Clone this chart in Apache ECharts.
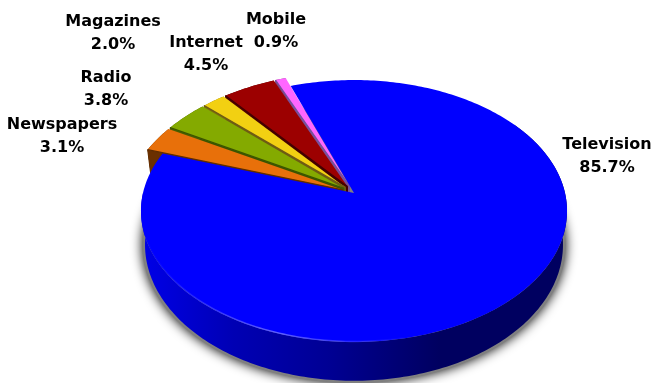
<!DOCTYPE html>
<html>
<head>
<meta charset="utf-8">
<style>html,body{margin:0;padding:0;background:#fff}#chart{width:653px;height:383px}</style>
<script src="https://cdn.jsdelivr.net/npm/echarts@6/dist/echarts.min.js"></script>
</head>
<body>
<div id="chart"></div>
<script>
// Share of advertising reach by medium, in percent.
const categories = ['Television', 'Newspapers', 'Radio', 'Magazines', 'Internet', 'Mobile'];
const shares = [85.7, 3.1, 3.8, 2.0, 4.5, 0.9];

// Slice colours: top face and radial cut face.
const topColors = ['#0000ff', '#e8700a', '#84aa00', '#f2d012', '#9c0000', '#ff66ff'];
const cutColors = ['#000080', '#5f2c00', '#3c5500', '#6e5c14', '#440000', '#77509c'];
const rimColors = ['#000080', '#6b3000', '#4a6000', '#80700c', '#500000', '#804080'];

// Label centres on the canvas.
const labelAt = {
  Television: [607, 156], Newspapers: [62, 136], Radio: [106, 89],
  Magazines: [113, 33], Internet: [206, 54], Mobile: [276, 31]
};

// Perspective projection of the disc: one mapping for the top face, one for the base.
const TILT = 0.1375;
const TOP_PLANE = { x: 354, y: 193, a: 211, b: 128.5 };
const BASE_PLANE = { x: 354, y: 226, a: 207, b: 133.5 };
const FIRST_ANGLE = -19.8;
const SMALL_RADIUS = 1.025;
const EXPLODE = 0.06;
// The large slice's outer wall only shows along the near side of the disc.
const NEAR_WALL = [55, 270];

const total = shares.reduce((s, v) => s + v, 0);
const spans = [];
shares.reduce((from, v) => {
  const to = from + (v / total) * 360;
  spans.push([from, to]);
  return to;
}, FIRST_ANGLE);

function project(plane, u, v) {
  const w = 1 - TILT * v;
  return [plane.x + plane.a * u / w, plane.y + plane.b * v / w];
}

// A point of slice i at a given angle (degrees clockwise from the far side) and radius.
function slicePoint(i, plane, deg, radius) {
  const [from, to] = spans[i];
  const mid = ((from + to) / 2) * Math.PI / 180;
  const off = i === 0 ? 0 : EXPLODE;
  const a = deg * Math.PI / 180;
  return project(plane,
    off * Math.sin(mid) + radius * Math.sin(a),
    -off * Math.cos(mid) - radius * Math.cos(a));
}

function arc(i, plane, from, to, radius) {
  const pts = [];
  const steps = Math.max(2, Math.ceil(Math.abs(to - from)));
  for (let k = 0; k <= steps; k++) {
    pts.push(slicePoint(i, plane, from + (to - from) * k / steps, radius));
  }
  return pts;
}

const rimFill = i => i === 0 ? {
  type: 'linear', global: true, x: 145, y: 0, x2: 440, y2: 0,
  colorStops: [
    { offset: 0, color: '#0000e6' },
    { offset: 0.3, color: '#0000b4' },
    { offset: 0.62, color: '#000094' },
    { offset: 1, color: '#000060' }
  ]
} : rimColors[i];

function drawSlice(params, api) {
  const i = api.value(1);
  const name = categories[i];
  const [from, to] = spans[i];
  const radius = i === 0 ? 1 : SMALL_RADIUS;
  const topArc = arc(i, TOP_PLANE, from, to, radius);
  const apexTop = slicePoint(i, TOP_PLANE, 0, 0);
  const apexBase = slicePoint(i, BASE_PLANE, 0, 0);
  const children = [];

  if (i !== 0) {
    // The near cut face of a pulled-out slice shows beside its neighbour.
    children.push({
      type: 'polygon',
      shape: { points: [apexTop, topArc[0], slicePoint(i, BASE_PLANE, from, radius), apexBase] },
      style: { fill: cutColors[i], stroke: cutColors[i], lineWidth: 1 }
    });
  }
  const wall = i === 0 ? NEAR_WALL : [from, to];
  children.push({
    type: 'polygon',
    shape: {
      points: arc(i, TOP_PLANE, wall[0], wall[1], radius)
        .concat(arc(i, BASE_PLANE, wall[0], wall[1], radius).reverse())
    },
    style: { fill: rimFill(i) }
  });
  children.push({
    type: 'polygon',
    shape: { points: [apexTop].concat(topArc) },
    style: { fill: topColors[i] }
  });
  if (i !== 0) {
    // Darkened lip along the slice's near radial edge.
    children.push({
      type: 'polyline',
      shape: { points: [apexTop, topArc[0]] },
      style: { fill: 'none', stroke: cutColors[i], lineWidth: 1.3 }
    });
  }
  if (i === 0) {
    // Light catching the front lower edge of the top face.
    children.push({
      type: 'polyline',
      shape: { points: arc(0, TOP_PLANE, 155, 280, 0.997) },
      style: {
        fill: 'none',
        lineWidth: 1.4,
        stroke: {
          type: 'linear', global: true, x: 145, y: 0, x2: 410, y2: 0,
          colorStops: [
            { offset: 0, color: 'rgba(110,110,255,0)' },
            { offset: 0.5, color: 'rgba(110,110,255,0.85)' },
            { offset: 1, color: 'rgba(110,110,255,0)' }
          ]
        }
      }
    });
  }
  const at = labelAt[name];
  children.push({
    type: 'text',
    x: at[0], y: at[1],
    style: {
      text: name + '\n' + api.value(0).toFixed(1) + '%',
      font: 'bold 16px "DejaVu Sans"',
      lineHeight: 23,
      fill: '#000',
      align: 'center',
      verticalAlign: 'middle'
    }
  });
  return { type: 'group', children };
}

// Soft drop shadow cast by the base of the disc.
function drawShadow() {
  return {
    type: 'polygon',
    shape: { points: arc(0, BASE_PLANE, 0, 360, 1.012) },
    style: {
      fill: '#808080',
      shadowBlur: 12,
      shadowColor: '#000',
      shadowOffsetX: 0,
      shadowOffsetY: 0
    }
  };
}

const sliceData = categories.map((n, i) => ({ name: n, value: [shares[i], i] })).reverse();

const chart = echarts.init(document.getElementById('chart'), null, { renderer: 'canvas' });
chart.setOption({
  animation: false,
  backgroundColor: '#fff',
  series: [
    { type: 'custom', coordinateSystem: 'none', silent: true, z: 1, renderItem: drawShadow, data: [[0]] },
    { type: 'custom', coordinateSystem: 'none', silent: true, z: 2, renderItem: drawSlice, data: sliceData }
  ]
});
</script>
</body>
</html>
